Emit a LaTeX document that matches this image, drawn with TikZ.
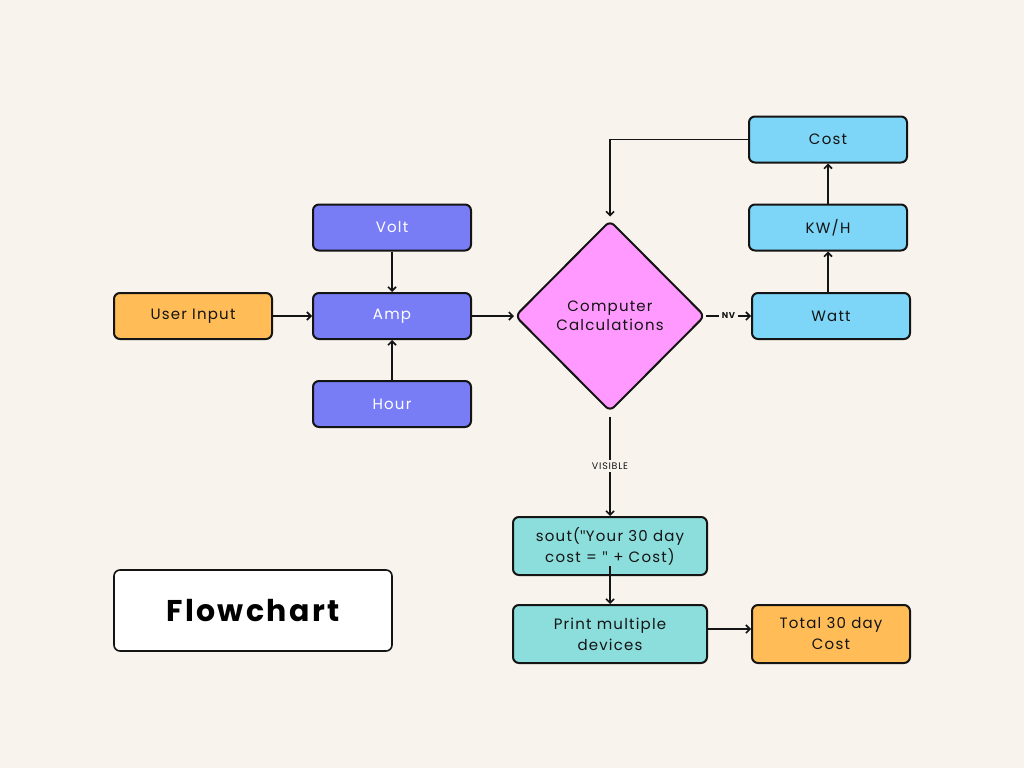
\documentclass[tikz,border=0pt]{standalone}
\usepackage{fontspec}
\setmainfont[LetterSpace=8]{Poppins}
\newfontfamily\qfont[LetterSpace=8]{Open Sans}
\newcommand{\sq}{{\qfont\symbol{34}}}
\usetikzlibrary{shapes.geometric,arrows.meta}
\definecolor{bg}{HTML}{F8F4ED}
\definecolor{corange}{HTML}{FFBC57}
\definecolor{cpurple}{HTML}{787DF5}
\definecolor{cpink}{HTML}{FF99FF}
\definecolor{cblue}{HTML}{7DD5F7}
\definecolor{cteal}{HTML}{8CDEDC}
\definecolor{ink}{HTML}{141414}
\tikzset{
  box/.style={draw=ink, line width=2pt, rounded corners=6pt, minimum width=158pt, minimum height=46pt, inner sep=2pt, font=\fontsize{15}{21}\selectfont, text=ink, align=center},
  wbox/.style={box, minimum width=194pt, minimum height=58pt},
  arr/.style={draw=ink, line width=1.6pt, -{Straight Barb[length=4pt,width=8pt,line width=1.6pt]}},
  lab/.style={fill=bg, inner sep=2.5pt, text=ink},
}
\begin{document}
\begin{tikzpicture}[x=1pt,y=-1pt]
\fill[bg] (0,0) rectangle (1024,768);
\useasboundingbox (0,0) rectangle (1024,768);

\node[box, fill=corange] (user) at (193,316) {User Input};
\node[box, fill=cpurple, text=white] (volt) at (392,227.5) {Volt};
\node[box, fill=cpurple, text=white] (amp) at (392,316) {Amp};
\node[box, fill=cpurple, text=white] (hour) at (392,404) {Hour};
\node[diamond, draw=ink, line width=2pt, rounded corners=6pt, fill=cpink, minimum width=190pt, minimum height=191pt, inner sep=0pt, font=\fontsize{15}{19}\selectfont, text=ink, align=center] (dia) at (610,316) {Computer\\Calculations};
\node[box, fill=cblue] (cost) at (828,139.5) {Cost};
\node[box, fill=cblue] (kwh) at (828,227.5) {KW/H};
\node[box, fill=cblue] (watt) at (831,316) {Watt};
\node[wbox, fill=cteal] (sout) at (610,546) {sout(\sq Your 30 day\\cost = \sq{} + Cost)};
\node[wbox, fill=cteal] (print) at (610,634) {Print multiple\\devices};
\node[box, fill=corange, minimum height=58pt] (total) at (831,634) {Total 30 day\\Cost};
\node[draw=ink, line width=1.6pt, rounded corners=6pt, fill=white, minimum width=278pt, minimum height=81pt, font=\fontsize{30}{36}\selectfont\bfseries, text=black] (title) at (253,610.5) {Flowchart};

\draw[arr] (user) -- (amp);
\draw[arr] (volt) -- (amp);
\draw[arr] (hour) -- (amp);
\draw[arr] (amp) -- (dia);
\draw[arr] (dia.east) -- node[lab, font=\fontsize{8.5}{10}\selectfont\bfseries]{NV} (watt.west);
\draw[arr] (watt.north -| kwh.south) -- (kwh.south);
\draw[arr] (kwh) -- (cost);
\draw[arr, shorten >=3pt] (cost.west) -| (dia.north);
\draw[arr] ([yshift=-4pt]dia.south) -- node[lab, font=\fontsize{9.5}{11}\selectfont]{VISIBLE} (sout.north);
\draw[arr] ([yshift=10pt]sout.south) -- (print.north);
\draw[arr] ([yshift=5pt]print.east) -- ([yshift=5pt]total.west);
\end{tikzpicture}
\end{document}
